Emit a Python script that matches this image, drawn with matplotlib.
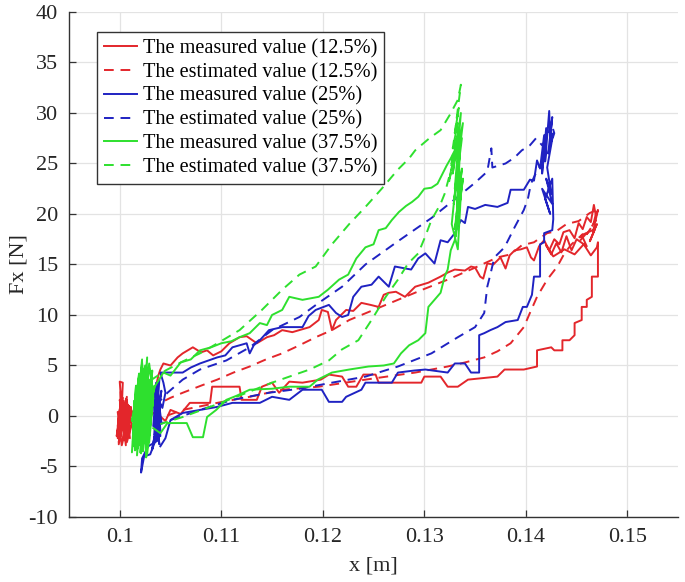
# -*- coding: utf-8 -*-
import matplotlib
matplotlib.use("Agg")
import matplotlib.pyplot as plt

# ---- data (x in m, Fx in N) ----
red_meas_x = [0.1002, 0.1000, 0.1004, 0.0998, 0.1003, 0.1001, 0.1000, 0.1003, 0.1002, 0.1006,
              0.1004, 0.1008, 0.1005, 0.1009, 0.1007, 0.0999, 0.1006, 0.1010, 0.1008, 0.1012,
              0.0998, 0.1001, 0.0997, 0.1003, 0.0999, 0.1005, 0.1001, 0.1007, 0.1003, 0.1009,
              0.1005, 0.1011, 0.1002, 0.0998, 0.1004, 0.1000, 0.1006, 0.1002, 0.1008, 0.1004,
              0.1010, 0.1006, 0.1012, 0.1007, 0.1001, 0.0999, 0.1003, 0.1008, 0.1011, 0.1009,
              0.1016, 0.1022, 0.1030, 0.1035, 0.1038,
              0.1040, 0.1043, 0.1050, 0.1057, 0.1062, 0.1072, 0.1080, 0.1086, 0.1092, 0.1100,
              0.1108, 0.1118, 0.1125, 0.1135, 0.1145, 0.1152, 0.1160, 0.1170, 0.1180, 0.1187,
              0.1196, 0.1199, 0.1205, 0.1209, 0.1213, 0.1223, 0.1230, 0.1238, 0.1247, 0.1255,
              0.1260, 0.1265, 0.1272, 0.1281, 0.1291, 0.1304, 0.1316, 0.1323, 0.1330, 0.1340,
              0.1346, 0.1350, 0.1355, 0.1358, 0.1362, 0.1368, 0.1375, 0.1380, 0.1384, 0.1389,
              0.1395, 0.1401, 0.1405, 0.1408, 0.1413, 0.1418, 0.1423, 0.1428, 0.1433, 0.1437,
              0.1443, 0.1448, 0.1452, 0.1456, 0.1460, 0.1464, 0.1467, 0.1469, 0.1471,
              0.1466, 0.1470, 0.1463, 0.1468, 0.1455, 0.1460, 0.1450, 0.1445, 0.1440, 0.1435,
              0.1430, 0.1425, 0.1420, 0.1427, 0.1438, 0.1448, 0.1457, 0.1464, 0.1470, 0.1471,
              0.1471, 0.1465, 0.1465, 0.1460, 0.1460, 0.1455, 0.1455, 0.1448, 0.1448, 0.1443,
              0.1436, 0.1436, 0.1428, 0.1425, 0.1411, 0.1411, 0.1398, 0.1379, 0.1372, 0.1343,
              0.1333, 0.1323, 0.1316, 0.1300, 0.1297, 0.1255, 0.1252, 0.1240, 0.1233, 0.1225,
              0.1219, 0.1206, 0.1198, 0.1180, 0.1167, 0.1157, 0.1150, 0.1140, 0.1135, 0.1120,
              0.1118, 0.1091, 0.1089, 0.1069, 0.1060, 0.1050, 0.1045, 0.1035, 0.1025, 0.1015]
red_meas_y = [0.5, -1.5, 1.2, -2.2, -0.4, 2.0, 3.4, 3.3, 0.8, -2.9,
              1.5, -1.8, 0.9, -0.6, 1.6, -2.6, 0.2, -1.2, 1.1, 0.4,
              -1.0, 1.4, -2.0, 1.8, -2.8, 0.6, -1.6, 1.9, -2.4, 1.0,
              -2.0, 0.8, -2.9, 0.4, -1.2, 1.6, -2.5, 1.2, -1.4, 0.2,
              -2.2, 1.7, -0.8, -2.6, 2.4, -1.8, 1.3, -2.0, 0.9, -0.4,
              1.0, 0.6, 1.8, 2.6, 4.0,
              4.6, 5.2, 5.0, 5.8, 6.2, 6.8, 6.3, 6.5, 6.0, 6.4,
              7.2, 7.8, 7.9, 7.2, 7.8, 8.0, 8.5, 8.3, 8.6, 8.8,
              9.5, 10.5, 10.3, 8.5, 9.5, 10.5, 10.4, 11.2, 11.0, 10.8,
              12.0, 12.2, 12.3, 11.8, 12.8, 13.2, 13.8, 14.2, 14.5, 14.4,
              14.8, 14.7, 13.8, 13.6, 15.1, 15.0, 15.7, 14.6, 15.9, 16.4,
              16.5, 16.7, 15.7, 15.4, 16.8, 17.4, 16.4, 17.5, 17.0, 18.2,
              18.4, 17.6, 19.1, 18.5, 19.7, 19.2, 20.9, 19.8, 20.4,
              18.2, 19.0, 17.3, 18.5, 17.9, 16.8, 17.5, 16.4, 17.8, 16.2,
              17.1, 16.0, 16.9, 15.8, 16.5, 16.0, 17.0, 15.9, 16.7, 17.2,
              13.8, 13.8, 11.8, 11.5, 10.8, 10.8, 9.5, 9.2, 8.0, 7.5,
              7.5, 6.5, 6.5, 6.8, 6.5, 4.9, 4.6, 4.6, 3.9, 3.6,
              2.9, 2.9, 3.9, 3.9, 3.3, 3.3, 4.1, 4.1, 2.9, 2.9,
              3.9, 4.1, 3.6, 3.3, 3.4, 2.3, 3.3, 2.9, 1.6, 1.6,
              2.9, 2.9, 1.3, 1.3, 0.2, 0.6, -0.5, 0.4, -0.3, 0.2]

red_est_x = [0.1030, 0.1040, 0.1050, 0.1062, 0.1080, 0.1096, 0.1112, 0.1128, 0.1144, 0.1160,
             0.1177, 0.1193, 0.1209, 0.1226, 0.1250, 0.1274, 0.1298, 0.1323, 0.1348, 0.1372,
             0.1385, 0.1396, 0.1408, 0.1421, 0.1430, 0.1440, 0.1452, 0.1463, 0.1470,
             0.1466, 0.1469, 0.1460, 0.1464, 0.1452, 0.1456, 0.1445, 0.1438, 0.1431, 0.1421,
             0.1411, 0.1404, 0.1398, 0.1385, 0.1372, 0.1359, 0.1340, 0.1323, 0.1291, 0.1242,
             0.1196, 0.1160, 0.1128, 0.1096, 0.1062, 0.1043, 0.1035]
red_est_y = [0.8, 1.3, 1.8, 2.3, 3.0, 3.6, 4.3, 4.9, 5.6, 6.2,
             7.0, 7.8, 8.5, 9.5, 10.5, 11.5, 12.5, 13.5, 14.6, 15.7,
             16.0, 16.9, 17.2, 18.1, 18.3, 19.0, 19.3, 20.1, 20.4,
             18.8, 19.4, 18.0, 18.6, 17.2, 18.0, 17.0, 16.1, 14.8, 13.5,
             11.8, 10.2, 8.8, 7.2, 6.4, 5.8, 5.3, 4.9, 4.3, 3.6,
             2.9, 2.6, 1.9, 1.3, 0.6, -0.1, -0.5]

blue_meas_x = [0.1030, 0.1036, 0.1033, 0.1039, 0.1035, 0.1040, 0.1032, 0.1038, 0.1041, 0.1034,
               0.1037, 0.1040, 0.1035, 0.1039, 0.1033, 0.1041, 0.1036, 0.1040, 0.1034, 0.1038,
               0.1028, 0.1022, 0.1021, 0.1024, 0.1030, 0.1036, 0.1040, 0.1037, 0.1042, 0.1045,
               0.1043, 0.1040,
               0.1043, 0.1062, 0.1070, 0.1079, 0.1096, 0.1104, 0.1111, 0.1125, 0.1128, 0.1132,
               0.1138, 0.1147, 0.1160, 0.1180, 0.1186, 0.1193, 0.1206, 0.1213, 0.1219, 0.1225,
               0.1230, 0.1238, 0.1248, 0.1255, 0.1265, 0.1271, 0.1287, 0.1294, 0.1301, 0.1310,
               0.1316, 0.1323, 0.1330, 0.1336, 0.1340, 0.1343, 0.1350, 0.1360, 0.1372, 0.1382,
               0.1385, 0.1398, 0.1404, 0.1408, 0.1411, 0.1414,
               0.1418, 0.1416, 0.1420, 0.1419, 0.1423, 0.1424, 0.1426, 0.1422, 0.1427, 0.1421,
               0.1425, 0.1420, 0.1426, 0.1416, 0.1424, 0.1419, 0.1426, 0.1427, 0.1426,
               0.1418, 0.1418, 0.1414, 0.1414, 0.1408, 0.1406, 0.1401, 0.1397, 0.1392, 0.1380,
               0.1372, 0.1365, 0.1359, 0.1354, 0.1354, 0.1346, 0.1340, 0.1330, 0.1323, 0.1301,
               0.1290, 0.1274, 0.1268, 0.1242, 0.1238, 0.1223, 0.1219, 0.1206, 0.1199, 0.1180,
               0.1167, 0.1150, 0.1138, 0.1111, 0.1096, 0.1079, 0.1062, 0.1050, 0.1045, 0.1040]
blue_meas_y = [0.5, 2.8, -1.0, 3.6, -2.5, 1.2, -3.3, 0.2, 2.5, -1.8,
               3.0, -2.0, 1.6, -2.8, 2.2, -0.6, 3.3, -1.4, 0.9, -2.4,
               -3.0, -4.2, -5.6, -4.0, -3.8, -2.2, -0.5, 1.8, 0.8, 2.3,
               3.3, 4.3,
               4.3, 4.3, 4.8, 5.2, 5.8, 6.0, 6.8, 7.2, 6.2, 7.0,
               7.5, 8.5, 8.8, 8.8, 9.9, 10.5, 11.0, 10.2, 9.8, 10.0,
               11.8, 12.8, 13.0, 13.8, 12.8, 14.8, 14.5, 15.6, 16.1, 15.1,
               17.4, 17.2, 18.1, 19.4, 19.1, 20.7, 20.5, 20.9, 20.7, 21.1,
               22.4, 22.4, 23.4, 23.3, 25.3, 24.5,
               27.8, 24.0, 28.5, 25.2, 30.2, 27.4, 29.6, 26.0, 28.0, 24.6,
               22.0, 23.5, 21.0, 22.5, 20.0, 21.5, 23.5, 19.5, 18.4,
               18.1, 17.2, 17.0, 13.8, 13.8, 12.0, 10.8, 10.8, 9.5, 9.3,
               8.8, 8.5, 8.2, 8.0, 4.3, 4.3, 5.2, 5.2, 4.3, 4.6,
               4.5, 4.3, 3.3, 3.3, 2.6, 1.9, 1.4, 1.4, 2.6, 2.6,
               1.6, 1.9, 1.3, 1.3, 0.9, 0.6, 0.3, -0.4, -2.2, -3.0]

blue_est_x = [0.1035, 0.1047, 0.1062, 0.1079, 0.1105, 0.1128, 0.1150, 0.1177, 0.1196, 0.1219,
              0.1242, 0.1274, 0.1307, 0.1333, 0.1350, 0.1362, 0.1366, 0.1367, 0.1380, 0.1389,
              0.1396, 0.1404, 0.1410, 0.1416, 0.1421, 0.1425, 0.1428,
              0.1420, 0.1412, 0.1405, 0.1402, 0.1398, 0.1389, 0.1379, 0.1369, 0.1365, 0.1362,
              0.1359, 0.1350, 0.1333, 0.1307, 0.1274, 0.1242, 0.1209, 0.1177, 0.1147, 0.1111,
              0.1079, 0.1050, 0.1035]
blue_est_y = [1.0, 2.3, 3.6, 4.6, 5.5, 6.8, 8.5, 9.8, 11.2, 12.8,
              15.0, 17.3, 19.6, 21.7, 23.1, 24.2, 26.5, 24.6, 25.0, 25.6,
              26.3, 26.8, 27.5, 26.8, 27.6, 29.0, 28.0,
              25.5, 24.5, 23.0, 21.5, 20.4, 18.7, 16.7, 15.7, 14.0, 12.8,
              10.2, 8.8, 7.8, 6.2, 4.9, 3.9, 3.3, 2.7, 2.3, 1.6,
              0.6, -0.4, -1.0]

green_meas_x = [0.1013, 0.1016, 0.1012, 0.1019, 0.1015, 0.1022, 0.1017, 0.1025, 0.1020, 0.1027,
                0.1023, 0.1030, 0.1026, 0.1032, 0.1028, 0.1024, 0.1018, 0.1014, 0.1021, 0.1029,
                0.1033, 0.1027, 0.1019, 0.1012, 0.1016, 0.1024, 0.1031, 0.1026, 0.1021, 0.1015,
                0.1023, 0.1028, 0.1032, 0.1025, 0.1018, 0.1022, 0.1029, 0.1034,
                0.1014, 0.1017, 0.1013, 0.1020, 0.1016, 0.1023, 0.1018, 0.1026, 0.1021, 0.1028,
                0.1024, 0.1031, 0.1027, 0.1033, 0.1029, 0.1022, 0.1015, 0.1019, 0.1025, 0.1030,
                0.1017, 0.1022, 0.1013, 0.1027, 0.1020, 0.1032, 0.1024, 0.1016, 0.1029, 0.1021,
                0.1035, 0.1043, 0.1050, 0.1060, 0.1070, 0.1079, 0.1090, 0.1100, 0.1110, 0.1118,
                0.1128, 0.1138, 0.1145, 0.1150, 0.1160, 0.1167, 0.1180, 0.1196, 0.1205, 0.1216,
                0.1225, 0.1233, 0.1242, 0.1250, 0.1255, 0.1262, 0.1268, 0.1275, 0.1282, 0.1288,
                0.1294, 0.1300, 0.1307, 0.1313, 0.1318, 0.1322, 0.1326, 0.1330,
                0.1334, 0.1328, 0.1336, 0.1330, 0.1338, 0.1331, 0.1337, 0.1329, 0.1335, 0.1332,
                0.1337, 0.1330, 0.1336, 0.1333, 0.1327, 0.1335, 0.1331, 0.1338, 0.1333,
                0.1330, 0.1326, 0.1323, 0.1320, 0.1316, 0.1310, 0.1304, 0.1301, 0.1294, 0.1285,
                0.1277, 0.1270, 0.1260, 0.1245, 0.1226, 0.1209, 0.1195, 0.1187, 0.1167, 0.1150,
                0.1128, 0.1115, 0.1105, 0.1095, 0.1086, 0.1082, 0.1072, 0.1066, 0.1047, 0.1040,
                0.1033]
green_meas_y = [-2.5, 3.0, -3.6, 4.2, -1.8, 5.6, -3.9, 4.8, -2.9, 5.8,
                -3.5, 3.6, -4.1, 4.5, -2.2, 2.8, -3.2, 1.5, -1.0, 5.2,
                2.0, -3.8, 3.9, -0.5, 1.0, -2.7, 2.5, -1.5, 4.4, -2.0,
                0.3, -3.0, 1.4, 5.0, -1.2, 3.2, -0.8, 3.0,
                -3.0, 2.2, -1.4, 3.4, -3.3, 4.6, -2.4, 3.8, -3.7, 2.6,
                -1.7, 4.0, -3.1, 1.8, -2.6, 5.3, -3.4, 2.9, -0.4, 3.1,
                -2.1, 4.1, -1.1, 3.5, -3.6, 2.4, -2.3, 0.7, 4.7, -1.6,
                3.0, 4.3, 4.0, 5.3, 5.6, 6.5, 6.8, 7.2, 7.4, 7.8,
                8.2, 9.2, 9.0, 10.0, 10.5, 11.8, 11.5, 11.8, 12.5, 13.5,
                14.0, 15.6, 16.7, 17.0, 18.4, 18.6, 19.4, 20.2, 20.8, 21.2,
                21.7, 22.5, 22.6, 23.0, 24.0, 24.8, 25.5, 26.3,
                28.5, 24.0, 30.0, 22.5, 29.0, 25.5, 27.5, 21.0, 26.0, 20.0,
                24.5, 18.5, 22.0, 16.5, 19.0, 27.0, 17.8, 23.5, 19.7,
                17.4, 16.4, 14.5, 13.8, 12.2, 11.5, 10.8, 8.2, 7.5, 7.0,
                6.2, 5.2, 5.0, 4.9, 4.6, 4.3, 3.6, 2.9, 2.9, 2.7,
                2.6, 2.0, 1.6, 0.6, -0.1, -2.1, -2.1, -0.7, -0.7, -1.7,
                -1.2]

green_est_x = [0.1030, 0.1045, 0.1062, 0.1079, 0.1098, 0.1118, 0.1140, 0.1160, 0.1177, 0.1193,
               0.1209, 0.1226, 0.1242, 0.1258, 0.1274, 0.1285, 0.1291, 0.1305, 0.1316, 0.1325,
               0.1333, 0.1336,
               0.1330, 0.1334, 0.1328, 0.1333, 0.1326, 0.1331, 0.1324, 0.1328, 0.1320,
               0.1316, 0.1307, 0.1301, 0.1294, 0.1284, 0.1274, 0.1262, 0.1248, 0.1235, 0.1219,
               0.1206, 0.1187, 0.1150, 0.1115, 0.1089, 0.1062, 0.1040]
green_est_y = [3.5, 4.5, 5.4, 6.2, 7.3, 8.5, 10.5, 12.5, 14.0, 14.8,
               17.0, 19.0, 20.7, 22.5, 24.4, 25.5, 26.3, 27.5, 28.3, 29.8,
               31.3, 32.8,
               28.0, 30.5, 26.5, 29.0, 24.5, 27.0, 23.0, 25.0, 22.0,
               21.0, 19.4, 17.8, 16.1, 15.1, 13.5, 11.8, 9.5, 7.5, 6.6,
               5.5, 4.6, 3.3, 1.9, 0.9, -0.1, -0.8]

labels = ["The measured value (12.5%)", "The estimated value (12.5%)",
          "The measured value (25%)", "The estimated value (25%)",
          "The measured value (37.5%)", "The estimated value (37.5%)"]

RED = "#e3262b"
BLUE = "#1f22c2"
GREEN = "#2ee02e"

plt.rcParams['font.family'] = ['Liberation Serif', 'DejaVu Serif']
plt.rcParams['font.size'] = 16
plt.rcParams['axes.unicode_minus'] = False

fig = plt.figure(figsize=(6.85, 5.82), dpi=100)
ax = fig.add_axes([0.1007, 0.1117, 0.8893, 0.8677])

lw = 1.4
dash = (5, 3.5)
ax.plot(red_meas_x, red_meas_y, color=RED, lw=lw, label=labels[0])
ax.plot(red_est_x, red_est_y, color=RED, lw=lw, dashes=dash, label=labels[1])
ax.plot(blue_meas_x, blue_meas_y, color=BLUE, lw=lw, label=labels[2])
ax.plot(blue_est_x, blue_est_y, color=BLUE, lw=lw, dashes=dash, label=labels[3])
ax.plot(green_meas_x, green_meas_y, color=GREEN, lw=lw, label=labels[4])
ax.plot(green_est_x, green_est_y, color=GREEN, lw=lw, dashes=dash, label=labels[5])

ax.set_xlim(0.095, 0.155)
ax.set_ylim(-10, 40)
ax.set_xticks([0.10, 0.11, 0.12, 0.13, 0.14, 0.15])
ax.set_xticklabels(["0.1", "0.11", "0.12", "0.13", "0.14", "0.15"])
ax.set_yticks(range(-10, 41, 5))

ax.grid(True, color="#e3e3e3", lw=0.9)
ax.set_axisbelow(True)
for s in ["top", "right"]:
    ax.spines[s].set_visible(False)
for s in ["left", "bottom"]:
    ax.spines[s].set_color("#333333")
    ax.spines[s].set_linewidth(1.0)
ax.tick_params(direction="in", length=5, width=0.9, colors="#333333",
               labelcolor="#262626", pad=8)

ax.set_xlabel("x [m]", color="#262626", labelpad=7)
ax.set_ylabel("Fx [N]", color="#262626", labelpad=0)

leg = ax.legend(loc="upper left", bbox_to_anchor=(0.046, 0.960), borderaxespad=0,
                fontsize=14.6, handlelength=1.6, handletextpad=0.3,
                labelspacing=0.22, borderpad=0.35, fancybox=False, framealpha=1)
leg.get_frame().set_edgecolor("#333333")
leg.get_frame().set_linewidth(1.0)

fig.savefig("out.png", dpi=100)
